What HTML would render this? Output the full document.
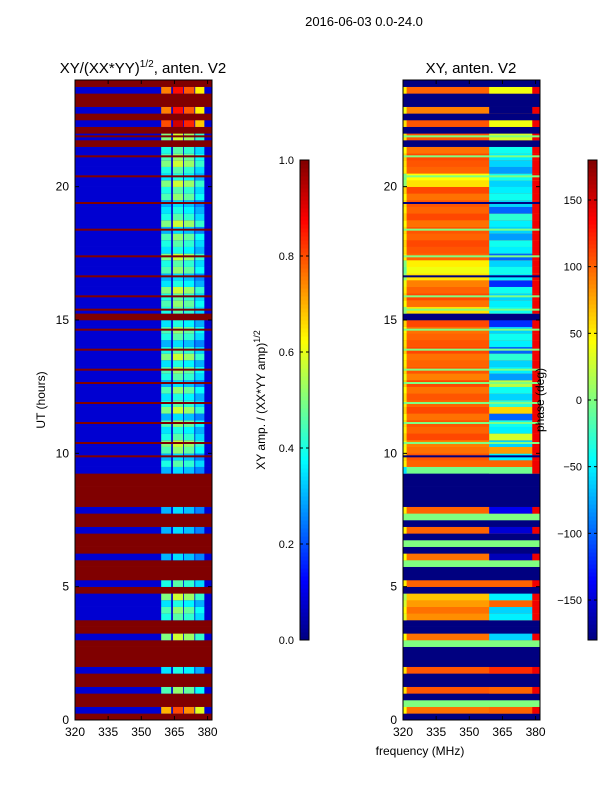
<!DOCTYPE html>
<html><head><meta charset="utf-8">
<style>
body{margin:0;background:#fff;}
svg{display:block;font-family:"Liberation Sans","DejaVu Sans",sans-serif;}
</style></head>
<body>
<svg id="fig" width="600" height="800" viewBox="0 0 600 800">
<text x="364" y="26" font-size="13" text-anchor="middle">2016-06-03 0.0-24.0</text>
<text x="143" y="73" font-size="15" text-anchor="middle">XY/(XX*YY)<tspan font-size="10" dy="-6">1/2</tspan><tspan dy="6">, anten. V2</tspan></text>
<text x="471" y="73" font-size="15" text-anchor="middle">XY, anten. V2</text>
<text x="420" y="755" font-size="12" text-anchor="middle">frequency (MHz)</text>
<text transform="translate(45,400) rotate(-90)" font-size="12" text-anchor="middle">UT (hours)</text>
<text transform="translate(265,400) rotate(-90)" font-size="12" text-anchor="middle">XY amp. / (XX*YY amp)<tspan font-size="9" dy="-5">1/2</tspan></text>
<g id="left"></g>
<g id="right"></g>
<g id="cb1"></g>
<g id="cb2"></g>
<text transform="translate(544,400) rotate(-90)" font-size="12" text-anchor="middle">phase (deg)</text>
</svg>
<script>
// ---- data (rows = 0.25 h bins, bottom to top); flag 1 = whole bin, 2 = thin flagged line ----
const flagRows = [1,0,1,1,0,1,1,0,1,1, 1,1,0,1,1, 0,0,0,0, 1,0,1, 1,1,0,1,1,1,0,1,1,0,1, 1,1,1,1,
 0,0,2,0,2,0,0,2,0,0,2,0,0,2,0,2,0,0,2,0,0,2,0, 1,2,
 0,2,0,0,2,0,0,2,0,0,0,2,0,0,0,2,0,0,0,2,0,0,2,0,1,2, 1,0,1,0,1,1,0,1];
const ampBase = 0.08;
const ampRfi = [0.75,0.7,0.4,0.3,0.45,0.3,0.4,0.35,0.3,0.3, 0.3,0.3,0.5,0.3,0.3, 0.4,0.45,0.35,0.5, 0.3,0.4,0.3, 0.25,0.25,0.3,0.25,0.25,0.25,0.3,0.25,0.25,0.3,0.25, 0.2,0.2,0.2,0.2,
 0.3,0.4,0.3,0.45,0.5,0.4,0.35,0.45,0.3,0.5,0.4,0.35,0.45,0.3,0.4,0.45,0.35,0.5,0.4,0.3,0.4,0.45,0.35, 0.3,0.4,
 0.45,0.4,0.5,0.35,0.3,0.45,0.4,0.5,0.35,0.4,0.45,0.3,0.5,0.4,0.35,0.3,0.45,0.4,0.5,0.35,0.4,0.5,0.45,0.4,0.35,0.5, 0.7,0.8,0.7,0.75,0.8,0.7,0.75,0.8];
const bandGain = [1.0,1.15,1.05,0.85];
const flagPhase = [-180,-180,0,-180,-180,-180,-180,0,-180,-180, -180,0,-180,-180,-180, -180,-180,-180,-180, -180,0,-180, -180,0,-180,-180,0,-180,-180,-180,0,-180,-180, -180,-180,-180,-180,
 0,0,-180,0,0,0,0,0,-180,0,0,0,0,0,-180,0,0,0,0,0,-180,0,0, -180,0,
 0,0,0,0,-180,0,0,0,0,0,0,0,0,0,0,-180,0,0,0,0,0,0,0,0,-180,0, -180,0,-180,0,-180,-180,0,-180];
const phaseBase = [100,95,100,92,105,100,95,105,100,95, 105,100,95,90,105, 85,95,80,65, 95,100,105, 100,105,95,100,105,95,100,105,95,100,105, 95,100,105,95,
 -5,100,105,95,90,110,100,105,95,110,100,105,95,110,90,105,100,95,110,105,100,95,110, 105,55,
 95,110,100,90,55,40,50,100,105,110,100,105,95,110,100,105,95,110,55,45,100,105,110,95,100,105, 95,105,100,90,95,90,100,95];
const phaseRfi = [110,100,-60,110,100,-100,110,120,-60,100, -140,110,-60,100,110, -50,-60,100,-50, -120,100,110, -150,110,-160,-140,110,-150,-150,-160,110,-140,-150, -150,-150,-150,-150,
 -5,100,-50,80,-60,30,-50,-40,-100,60,-30,-60,-40,20,-80,-50,-60,-30,-100,-50,-40,-60,-120, -150,-40,
 -50,-60,-40,-120,-50,-40,-60,-100,-50,-40,-80,-60,-50,-30,-100,-60,-40,-50,-60,-40,-80,-60,-50,-40,-60,30, 60,40,-60,-180,60,50,40,-50];
const phaseEdge = 140;
const ampTicks = [0,0.2,0.4,0.6,0.8,1.0];
const phaseTicks = [-150,-100,-50,0,50,100,150];
const xTicks = [320,335,350,365,380];
const yTicks = [0,5,10,15,20];
const bands = [[359,363.4],[364.3,368.8],[369.3,373.9],[374.4,378.4]];

// ---- helpers ----
const NS="http://www.w3.org/2000/svg";
function jet(t){t=Math.max(0,Math.min(1,t));
 const r=Math.max(0,Math.min(1,1.5-Math.abs(4*t-3))),g=Math.max(0,Math.min(1,1.5-Math.abs(4*t-2))),b=Math.max(0,Math.min(1,1.5-Math.abs(4*t-1)));
 return `rgb(${Math.round(r*255)},${Math.round(g*255)},${Math.round(b*255)})`;}
function mk(tag,at,parent){const e=document.createElementNS(NS,tag);for(const k in at)e.setAttribute(k,at[k]);parent.appendChild(e);return e;}
const fMin=320,fMax=382,plotTop=80,plotBot=720,hMax=24;
function yS(h){return plotBot-(h/hMax)*(plotBot-plotTop);}
function xS(x0,f){return x0+(f-fMin)/(fMax-fMin)*137;}
const nph=v=>(v+180)/360;

function rowCells(r,isAmp){
 const cells=[];
 if(isAmp){
  if(flagRows[r]===1){cells.push([fMin,fMax,1]);return cells;}
  cells.push([fMin,fMax,ampBase]);
  bands.forEach((b,i)=>cells.push([b[0],b[1],Math.min(1,ampRfi[r]*bandGain[i])]));
 } else {
  if(flagRows[r]===1){cells.push([fMin,fMax,nph(flagPhase[r])]);return cells;}
  cells.push([fMin,fMax,nph(phaseBase[r])]);
  cells.push([fMin,321.5,nph(phaseBase[r]-50)]);
  cells.push([359,378.5,nph(phaseRfi[r])]);
  cells.push([378.5,fMax,nph(phaseEdge)]);
 }
 return cells;
}

function panel(id,x0,isAmp){
 const g=document.getElementById(id);
 const nR=flagRows.length,dh=hMax/nR;
 for(let r=0;r<nR;r++){
  const y1=yS((r+1)*dh),y2=yS(r*dh);
  rowCells(r,isAmp).forEach(c=>{
   const x1=xS(x0,c[0]),x2=xS(x0,c[1]);
   const e=mk('rect',{x:x1,y:y1,width:x2-x1+0.3,height:y2-y1+0.3,fill:jet(c[2])},g);
   
   
  });
  if(flagRows[r]===2){
   const col=isAmp?jet(1):jet(nph(flagPhase[r]));
   const e=mk('rect',{x:x0,y:y1+2,width:137,height:2,fill:col},g);
   
   
  }
 }
 const fr=mk('rect',{x:x0,y:plotTop,width:137,height:plotBot-plotTop,fill:'none',stroke:'#000','stroke-width':1},g);
 
 
 xTicks.forEach(t=>{const x=xS(x0,t);
  mk('line',{x1:x,x2:x,y1:plotBot,y2:plotBot-4,stroke:'#000'},g);
  mk('line',{x1:x,x2:x,y1:plotTop,y2:plotTop+4,stroke:'#000'},g);
  const tx=mk('text',{x:x,y:plotBot+16,'font-size':12,'text-anchor':'middle'},g);tx.textContent=t;
  
  
 });
 yTicks.forEach(t=>{const y=yS(t);
  mk('line',{x1:x0,x2:x0+4,y1:y,y2:y,stroke:'#000'},g);
  mk('line',{x1:x0+137,x2:x0+133,y1:y,y2:y,stroke:'#000'},g);
  const tx=mk('text',{x:x0-6,y:y+4,'font-size':12,'text-anchor':'end'},g);tx.textContent=t;
  
  
 });
}
panel('left',75,true);
panel('right',403,false);

function cbar(id,x0,ticks,vmin,vmax){
 const g=document.getElementById(id);const y0=160,y1=640,n=120;
 for(let i=0;i<n;i++){
  const e=mk('rect',{x:x0,y:y1-(i+1)*(y1-y0)/n,width:9,height:(y1-y0)/n+0.5,fill:jet((i+0.5)/n)},g);
  
  
 }
 mk('rect',{x:x0,y:y0,width:9,height:y1-y0,fill:'none',stroke:'#000'},g);
 ticks.forEach(t=>{const y=y1-(t-vmin)/(vmax-vmin)*(y1-y0);
  mk('line',{x1:x0,x2:x0+3,y1:y,y2:y,stroke:'#000'},g);
  mk('line',{x1:x0+9,x2:x0+6,y1:y,y2:y,stroke:'#000'},g);
  const tx=mk('text',{x:x0-6,y:y+4,'font-size':11,'text-anchor':'end'},g);
  tx.textContent=(vmax===1?t.toFixed(1):String(t).replace('-','\u2212'));
  
  
 });
}
cbar('cb1',300,ampTicks,0,1);
cbar('cb2',588,phaseTicks,-180,180);
</script>
</body></html>
